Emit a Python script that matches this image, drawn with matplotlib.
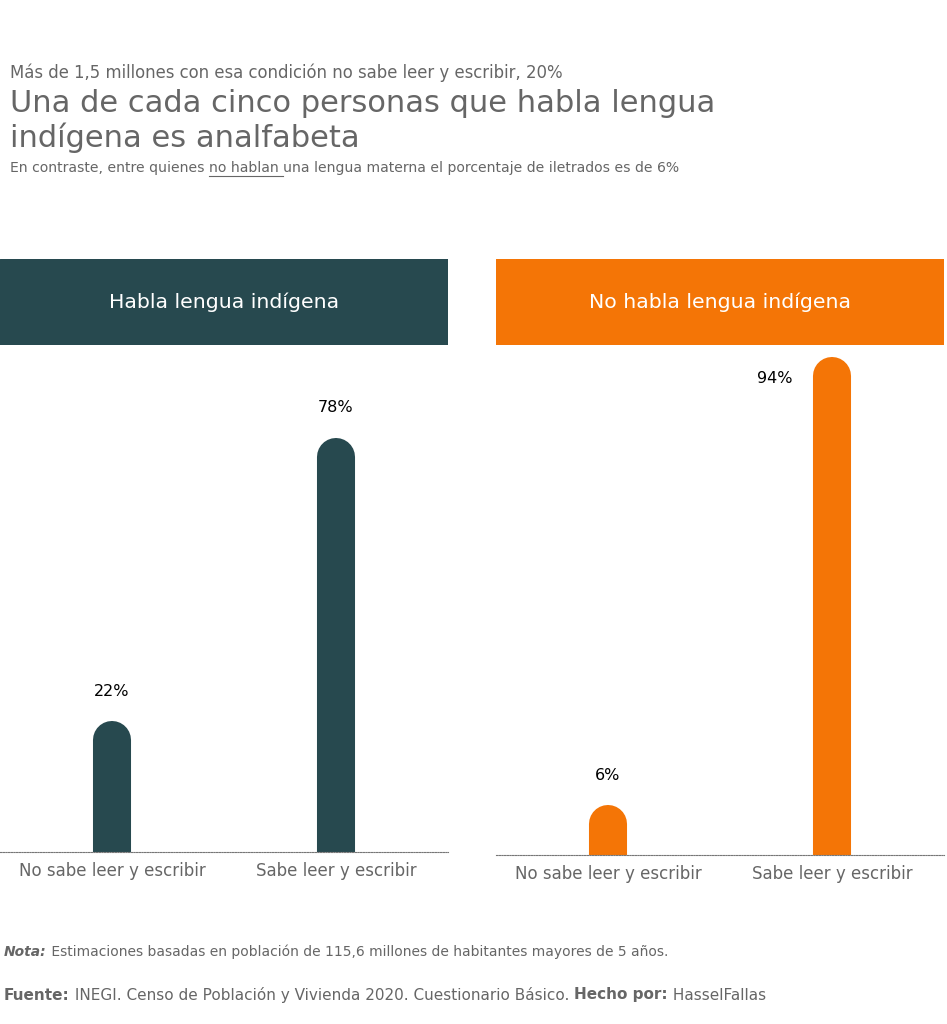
import matplotlib
matplotlib.use("Agg")
import matplotlib.pyplot as plt
from matplotlib.patches import Rectangle

# datos
categorias = ["No sabe leer y escribir", "Sabe leer y escribir"]
habla = [22, 78]
no_habla = [6, 94]
paneles = ["Habla lengua indígena", "No habla lengua indígena"]
colores = ["#27494f", "#f47506"]

W, H = 947, 1024
gris = "#666666"

fig = plt.figure(figsize=(W / 100, H / 100), dpi=100)
renderer = fig.canvas.get_renderer()


def caja(x, y, w, h):
    # rectangulo en pixeles desde arriba a la izquierda
    return [x / W, 1 - (y + h) / H, w / W, h / H]


def linea_texto(x, y, piezas, size):
    # escribe trozos seguidos en la misma linea, devuelve las cajas
    cajas = []
    for txt, peso, estilo in piezas:
        t = fig.text(x / W, 1 - y / H, txt, fontsize=size, color=gris, fontweight=peso,
                     fontstyle=estilo, va="center")
        bb = t.get_window_extent(renderer)
        cajas.append((x, bb.width))
        x += bb.width
    return cajas


# titulos
fig.text(10 / W, 1 - 73 / H, "Más de 1,5 millones con esa condición no sabe leer y escribir, 20%",
         fontsize=11.9, color=gris, va="center")
fig.text(10 / W, 1 - 104 / H, "Una de cada cinco personas que habla lengua",
         fontsize=22, color=gris, va="center")
fig.text(10 / W, 1 - 138 / H, "indígena es analfabeta",
         fontsize=22, color=gris, va="center")

partes = [("En contraste, entre quienes ", "normal", "normal"),
          ("no hablan ", "normal", "normal"),
          ("una lengua materna el porcentaje de iletrados es de 6%", "normal", "normal")]
cajas = linea_texto(10, 168, partes, 10.1)
xu, wu = cajas[1]
fig.add_artist(plt.Line2D([xu / W, (xu + wu) / W], [1 - 176 / H, 1 - 176 / H], color=gris, lw=0.8))

# paneles
datos = [habla, no_habla]
x0s = [0, 496]
bases = [852, 855]
for j in range(2):
    x0 = x0s[j]
    hdr = fig.add_axes(caja(x0, 259, 448, 86))
    hdr.add_patch(Rectangle((0, 0), 1, 1, color=colores[j], transform=hdr.transAxes))
    hdr.text(0.5, 0.5, paneles[j], color="white", fontsize=14.7, ha="center", va="center",
             transform=hdr.transAxes)
    hdr.axis("off")

    ax = fig.add_axes(caja(x0, 345, 448, bases[j] - 345))
    xs = list(range(len(categorias)))
    for x, v in zip(xs, datos[j]):
        ax.plot([x, x], [0, v], color=colores[j], lw=27.4, solid_capstyle="round")
        if v > 90:
            ax.annotate(f"{v}%", (x, v), xytext=(-41, -2), textcoords="offset points",
                        ha="center", va="center", fontsize=11.5, color="black")
        else:
            ax.annotate(f"{v}%", (x, v), xytext=(0, 35), textcoords="offset points",
                        ha="center", va="center", fontsize=11.5, color="black")
    ax.set_xlim(-0.5, 1.5)
    ax.set_ylim(0, 100)
    ax.set_xticks(xs)
    ax.set_xticklabels(categorias, fontsize=12, color=gris)
    ax.tick_params(axis="x", length=0, pad=7)
    ax.set_yticks([])
    for s in ["top", "left", "right"]:
        ax.spines[s].set_visible(False)
    ax.spines["bottom"].set_linestyle((0, (1.2, 1.2)))
    ax.spines["bottom"].set_color("#777777")
    ax.spines["bottom"].set_linewidth(0.8)
    ax.set_zorder(1)

# notas
linea_texto(4, 952, [("Nota:", "bold", "italic"),
                     (" Estimaciones basadas en población de 115,6 millones de habitantes mayores de 5 años.",
                      "normal", "normal")], 10)
linea_texto(4, 995, [("Fuente:", "bold", "normal"),
                     (" INEGI. Censo de Población y Vivienda 2020. Cuestionario Básico. ", "normal", "normal"),
                     ("Hecho por:", "bold", "normal"),
                     (" HasselFallas", "normal", "normal")], 11)

fig.savefig("out.png", dpi=100)
